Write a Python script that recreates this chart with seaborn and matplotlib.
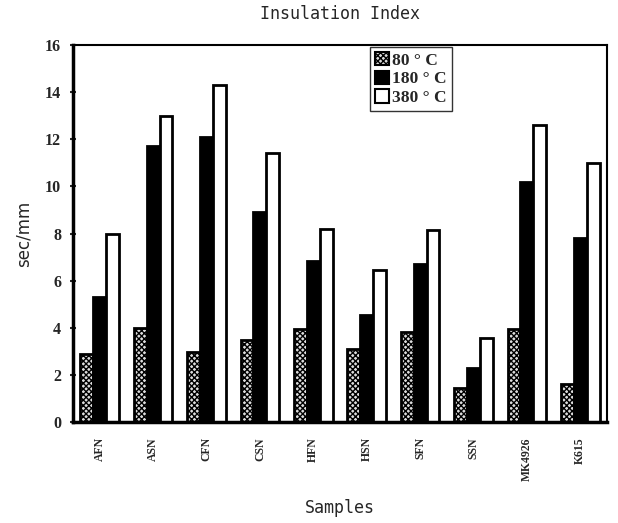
import matplotlib
matplotlib.use("Agg")
import matplotlib.pyplot as plt
import matplotlib.patches as mpatches
import seaborn as sns
import pandas as pd
import numpy as np

samples = ["AFN", "ASN", "CFN", "CSN", "HFN", "HSN", "SFN", "SSN", "MK4926", "K615"]
temps = ["80 ° C", "180 ° C", "380 ° C"]
v80 = [2.9, 4.0, 2.95, 3.5, 3.95, 3.1, 3.8, 1.45, 3.95, 1.6]
v180 = [5.3, 11.7, 12.1, 8.9, 6.85, 4.55, 6.7, 2.3, 10.2, 7.8]
v380 = [8.0, 13.0, 14.3, 11.4, 8.2, 6.45, 8.15, 3.55, 12.6, 11.0]
yticks = [0, 2, 4, 6, 8, 10, 12, 14, 16]

rows = []
for t, vals in zip(temps, [v80, v180, v380]):
    for s, v in zip(samples, vals):
        rows.append({"Sample": s, "Temp": t, "value": v})
df = pd.DataFrame(rows)

sns.set_style("white")
plt.rcParams["hatch.linewidth"] = 1.0
fig = plt.figure(figsize=(6.18, 5.23), dpi=100)
ax = fig.add_axes([73/618, 1-422/523, (607-73)/618, (422-45)/523])

palette = {temps[0]: "#dddddd", temps[1]: "#000000", temps[2]: "#ffffff"}
sns.barplot(data=df, x="Sample", y="value", hue="Temp", order=samples, hue_order=temps,
            palette=palette, width=0.72, edgecolor="black", linewidth=2.0,
            saturation=1, ax=ax, legend=False)

for i, cont in enumerate(ax.containers):
    for p in cont.patches:
        if i == 0:
            p.set_hatch("xxxxxx")

ax.set_ylim(0, 16)
ax.set_xlim(-0.5, len(samples) - 0.5)
ax.set_yticks(yticks)
ax.set_yticklabels([str(v) for v in yticks], fontfamily="Liberation Serif",
                   fontweight="bold", fontsize=11.5)
ax.set_xticks(range(len(samples)))
ax.set_xticklabels(samples, rotation=90, fontfamily="Liberation Serif",
                   fontweight="bold", fontsize=8.5)
ax.tick_params(axis="x", which="major", length=0, pad=11)
ax.set_xticks(np.arange(-0.5, len(samples), 1.0), minor=True)
ax.tick_params(axis="x", which="minor", length=5, width=1.5, direction="inout")
ax.tick_params(axis="y", which="major", length=5, width=1.5, direction="inout", left=True, pad=6)

for sp in ax.spines.values():
    sp.set_visible(True)
    sp.set_color("black")
ax.spines["left"].set_linewidth(2.5)
ax.spines["bottom"].set_linewidth(2.5)
ax.spines["top"].set_linewidth(1.5)
ax.spines["right"].set_linewidth(1.5)

ax.set_title("Insulation Index", fontfamily="DejaVu Sans Mono", fontsize=12, pad=19)
ax.set_xlabel("Samples", fontfamily="DejaVu Sans Mono", fontsize=12)
ax.xaxis.set_label_coords(0.5, -0.205)
ax.set_ylabel("sec/mm", fontfamily="DejaVu Sans", fontsize=12)
ax.yaxis.set_label_coords(-0.075, 0.5)

handles = [
    mpatches.Patch(facecolor="#dddddd", edgecolor="black", hatch="xxxxxx", linewidth=1.5, label=temps[0]),
    mpatches.Patch(facecolor="black", edgecolor="black", linewidth=1.5, label=temps[1]),
    mpatches.Patch(facecolor="white", edgecolor="black", linewidth=1.5, label=temps[2]),
]
leg = ax.legend(handles=handles, loc="upper left", bbox_to_anchor=(0.552, 1.0),
                borderaxespad=0.1, frameon=True,
                fancybox=False, edgecolor="black", handlelength=0.8, handleheight=0.8,
                handletextpad=0.2, labelspacing=0.12, borderpad=0.3,
                prop={"family": "Liberation Serif", "weight": "bold", "size": 12.5})
leg.get_frame().set_linewidth(1.0)

fig.savefig("out.png", dpi=100)
